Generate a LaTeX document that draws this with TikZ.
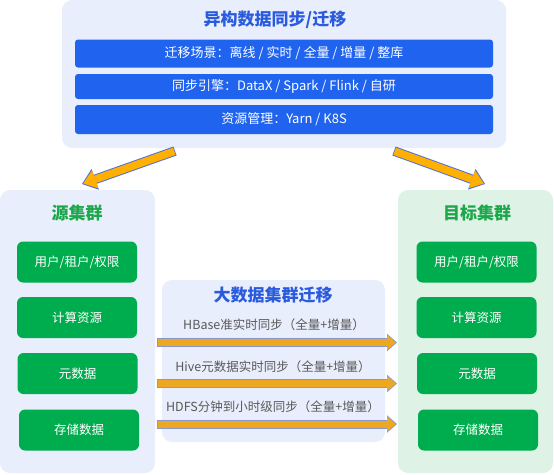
\documentclass[tikz,border=0pt]{standalone}
\usepackage{fontspec}
\setmainfont{Noto Sans CJK SC}
\usepackage{xcolor}
\usetikzlibrary{arrows.meta}

\definecolor{panelblue}{HTML}{E8EEFC}
\definecolor{panelgreen}{HTML}{DEF2E6}
\definecolor{barblue}{HTML}{1F63EF}
\definecolor{titleblue}{HTML}{2A5BDE}
\definecolor{boxgreen}{HTML}{00AD4E}
\definecolor{titlegreen}{HTML}{1CA84A}
\definecolor{flowfill}{HTML}{ECA823}
\definecolor{flowedge}{HTML}{8A97C8}
\definecolor{feedfill}{HTML}{FFB000}
\definecolor{feededge}{HTML}{5470D0}
\definecolor{labelgray}{HTML}{595959}

\begin{document}
\begin{tikzpicture}[x=1pt, y=-1pt,
  panel/.style={rounded corners=10pt, fill=panelblue, inner sep=0pt},
  bar/.style={rounded corners=3pt, fill=barblue, text=white, inner sep=0pt,
    minimum width=418pt, font=\fontsize{13}{15}\selectfont},
  item/.style={rounded corners=6pt, fill=boxgreen, text=white, inner sep=0pt,
    minimum width=120pt, minimum height=41pt, font=\fontsize{12.5}{15}\selectfont},
  heading/.style={font=\fontsize{17}{20}\selectfont\bfseries},
  note/.style={text=labelgray, font=\fontsize{12.5}{15}\selectfont},
  flow/.style={draw=flowfill, line width=7pt, shorten >=1.2pt, shorten <=0.8pt,
    -{Triangle[length=8.8pt,width=15pt,line width'=0pt]},
    preaction={draw=flowedge, line width=9pt, shorten >=0pt, shorten <=0pt,
      -{Triangle[length=10pt,width=17.5pt,line width'=0pt]}}},
  feed/.style={draw=feedfill, line width=7.5pt, shorten >=1.4pt, shorten <=0.8pt,
    -{Triangle[length=12.6pt,width=19pt,line width'=0pt]},
    preaction={draw=feededge, line width=9.5pt, shorten >=0pt, shorten <=0pt,
      -{Triangle[length=14pt,width=22pt,line width'=0pt]}}}]
  \useasboundingbox (0,0) rectangle (554,474);

  % Panels
  \node[panel, minimum width=444pt, minimum height=148pt] (sync) at (284,74) {};
  \node[panel, minimum width=155pt, minimum height=283pt] (src) at (77.5,331.5) {};
  \node[panel, fill=panelgreen, minimum width=155pt, minimum height=283pt] (dst) at (475.5,331.5) {};
  \node[panel, minimum width=223pt, minimum height=162pt] (mid) at (273.5,361) {};

  % Top panel
  \node[heading, text=titleblue] (syncT) at (275,20) {异构数据同步/迁移};
  \node[bar, minimum height=28pt] (scene) at (284,53.5) {迁移场景：离线 / 实时 / 全量 / 增量 / 整库};
  \node[bar, minimum height=25pt] (engine) at (284,86.5) {同步引擎：DataX / Spark / Flink / 自研};
  \node[bar, minimum height=29pt] (res) at (284,119.5) {资源管理：Yarn / K8S};

  % Source cluster
  \node[heading, text=titlegreen] (srcT) at (77,213) {源集群};
  \node[item] (srcA) at (77,262) {用户/租户/权限};
  \node[item] (srcB) at (77,317.5) {计算资源};
  \node[item] (srcC) at (77.5,373.5) {元数据};
  \node[item] (srcD) at (79,430) {存储数据};

  % Target cluster
  \node[heading, text=titlegreen] (dstT) at (477,213) {目标集群};
  \node[item] (dstA) at (476.5,262) {用户/租户/权限};
  \node[item] (dstB) at (476.5,317.5) {计算资源};
  \node[item] (dstC) at (477,373.5) {元数据};
  \node[item] (dstD) at (478,430) {存储数据};

  % Migration in the middle
  \node[heading, text=titleblue] (midT) at (273,295) {大数据集群迁移};
  \node[note] (hbase) at (274,325) {HBase准实时同步（全量+增量）};
  \node[note] (hive) at (273,367) {Hive元数据实时同步（全量+增量）};
  \node[note] (hdfs) at (273,407) {HDFS分钟到小时级同步（全量+增量）};

  \coordinate (hbaseS) at (157,342.5);
  \coordinate (hbaseE) at (397,342.5);
  \coordinate (hiveS) at (157,383.5);
  \coordinate (hiveE) at (397,383.5);
  \coordinate (hdfsS) at (157,424);
  \coordinate (hdfsE) at (397,424);
  \draw[flow] (hbaseS) -- (hbaseE);
  \draw[flow] (hiveS) -- (hiveE);
  \draw[flow] (hdfsS) -- (hdfsE);

  % Arrows out of the top panel
  \coordinate (feedL) at (175,151);
  \coordinate (feedR) at (394,151);
  \coordinate (srcIn) at (82,184);
  \coordinate (dstIn) at (485,184);
  \draw[feed] (feedL) -- (srcIn);
  \draw[feed] (feedR) -- (dstIn);
\end{tikzpicture}
\end{document}
